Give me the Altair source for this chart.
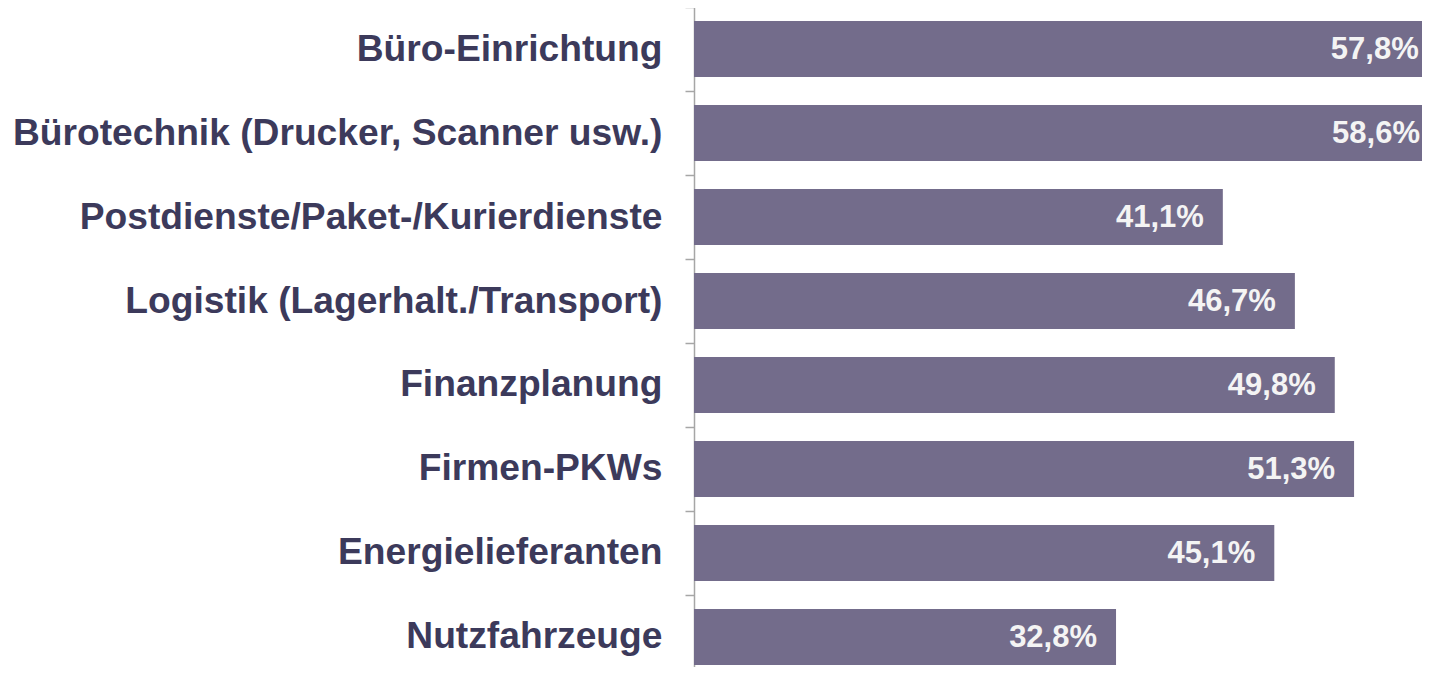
import altair as alt
import pandas as pd

categories = [
    "Büro-Einrichtung",
    "Bürotechnik (Drucker, Scanner usw.)",
    "Postdienste/Paket-/Kurierdienste",
    "Logistik (Lagerhalt./Transport)",
    "Finanzplanung",
    "Firmen-PKWs",
    "Energielieferanten",
    "Nutzfahrzeuge",
]
values = [57.8, 58.6, 41.1, 46.7, 49.8, 51.3, 45.1, 32.8]
labels = ["57,8%", "58,6%", "41,1%", "46,7%", "49,8%", "51,3%", "45,1%", "32,8%"]

df = pd.DataFrame({"cat": categories, "val": values, "lab": labels})

FONT = "Liberation Sans"

y_enc = alt.Y(
    "cat:N",
    sort=categories,
    scale=alt.Scale(paddingInner=0.333, paddingOuter=0.1667),
    axis=alt.Axis(
        title=None,
        labelFont=FONT,
        labelFontSize=37.2,
        labelFontWeight="bold",
        labelColor="#3c3a5b",
        labelPadding=23,
        labelLimit=1000,
        labelOffset=42,
        tickSize=9,
        tickColor="#a6a6a6",
        tickWidth=1.5,
        tickOffset=-42,
        domainColor="#a6a6a6",
        domainWidth=1.5,
        grid=False,
    ),
)
x_scale = alt.Scale(domain=[0, 58.6], nice=False, zero=True)
x_enc = alt.X("val:Q", scale=x_scale, axis=None)

bars = alt.Chart(df).mark_bar(color="#736c8b").encode(x=x_enc, y=y_enc)
# keep the value labels inside the visible page (the longest bar runs past the edge)
text = alt.Chart(df).transform_calculate(
    lx="min(datum.val, 57.9)"
).mark_text(
    align="right", baseline="middle", dx=-19, dy=1,
    font=FONT, fontSize=31, fontWeight="bold", color="#f4f4f4",
).encode(x=alt.X("lx:Q", scale=x_scale, axis=None),
         y=alt.Y("cat:N", sort=categories), text="lab:N")

chart = (bars + text).properties(
    width=754, height=672,
    autosize=alt.AutoSizeParams(type="none"),
    padding={"left": 686, "top": -1, "right": -26, "bottom": -12},
).configure_view(stroke=None)

chart.save("out.html", embed_options={"renderer": "svg", "actions": False})
